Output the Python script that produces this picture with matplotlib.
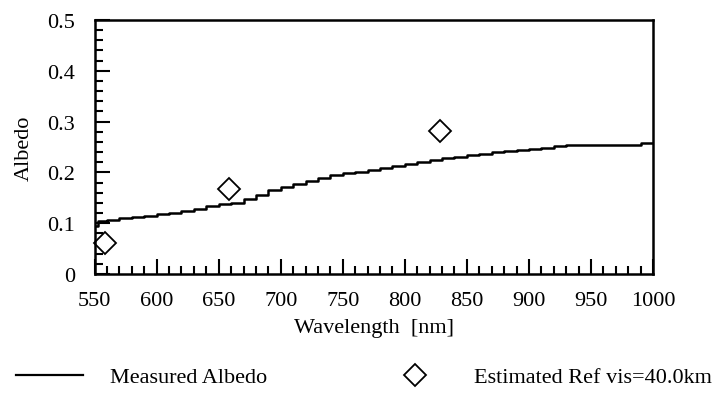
import numpy as np
import matplotlib.pyplot as plt
from matplotlib.lines import Line2D
from matplotlib.ticker import MultipleLocator

# measured albedo (staircase)
wavelength = [550, 553, 560, 570, 580, 590, 600, 610, 620, 630, 640, 650, 660,
              670, 680, 690, 700, 710, 720, 730, 740, 750, 760, 770, 780, 790,
              800, 810, 820, 830, 840, 850, 860, 870, 880, 890, 900, 910, 920,
              930, 940, 950, 960, 970, 980, 990, 1000]
albedo = [0.095, 0.105, 0.107, 0.110, 0.112, 0.115, 0.118, 0.121, 0.125, 0.128,
          0.133, 0.137, 0.139, 0.147, 0.156, 0.165, 0.172, 0.178, 0.184, 0.189,
          0.194, 0.198, 0.201, 0.204, 0.208, 0.212, 0.216, 0.220, 0.224, 0.228,
          0.231, 0.234, 0.237, 0.240, 0.243, 0.245, 0.247, 0.249, 0.252, 0.253,
          0.253, 0.254, 0.254, 0.254, 0.254, 0.258, 0.258]

# estimated reflectance points
est_wl = [558, 658, 828]
est_ref = [0.062, 0.167, 0.281]

x_ticks = [550, 600, 650, 700, 750, 800, 850, 900, 950, 1000]
y_ticks = [0, 0.1, 0.2, 0.3, 0.4, 0.5]
y_labels = ['0', '0.1', '0.2', '0.3', '0.4', '0.5']

plt.rcParams['font.family'] = ['Liberation Serif', 'DejaVu Serif']
FS = 16

fig = plt.figure(figsize=(7.28, 4.10), dpi=100)
ax = fig.add_axes([0.130, 0.329, 0.767, 0.620])

ax.plot(wavelength, albedo, drawstyle='steps-post', color='black', lw=1.8)
ax.plot(est_wl, est_ref, linestyle='none', marker='D', ms=11, mfc='white',
        mec='black', mew=1.3, clip_on=False)

ax.set_xlim(550, 1000)
ax.set_ylim(0, 0.5)
ax.set_xticks(x_ticks)
ax.set_yticks(y_ticks)
ax.set_yticklabels(y_labels)
ax.xaxis.set_minor_locator(MultipleLocator(10))
ax.yaxis.set_minor_locator(MultipleLocator(0.02))
ax.tick_params(which='both', direction='in', top=False, right=False,
               labelsize=FS, width=1.5)
ax.tick_params(which='major', length=11)
ax.tick_params(axis='x', which='major', pad=12)
ax.tick_params(axis='y', which='major', pad=14)
ax.tick_params(which='minor', length=5.5)
for s in ax.spines.values():
    s.set_linewidth(1.8)

ax.set_xlabel('Wavelength  [nm]', fontsize=FS, labelpad=6)
ax.set_ylabel('Albedo', fontsize=FS, labelpad=10)

h_line = Line2D([], [], color='black', lw=1.6)
h_diam = Line2D([], [], linestyle='none', marker='D', ms=11, mfc='white',
                mec='black', mew=1.3)
fig.legend([h_line], ['Measured Albedo'], loc='center left',
           bbox_to_anchor=(-0.005, 0.078), frameon=False, fontsize=FS,
           handlelength=3.0, handletextpad=1.2)
fig.legend([h_diam], ['Estimated Ref vis=40.0km'], loc='center left',
           bbox_to_anchor=(0.52, 0.078), frameon=False, fontsize=FS,
           handlelength=1.5, handletextpad=1.9)

fig.savefig('out.png', dpi=100)
